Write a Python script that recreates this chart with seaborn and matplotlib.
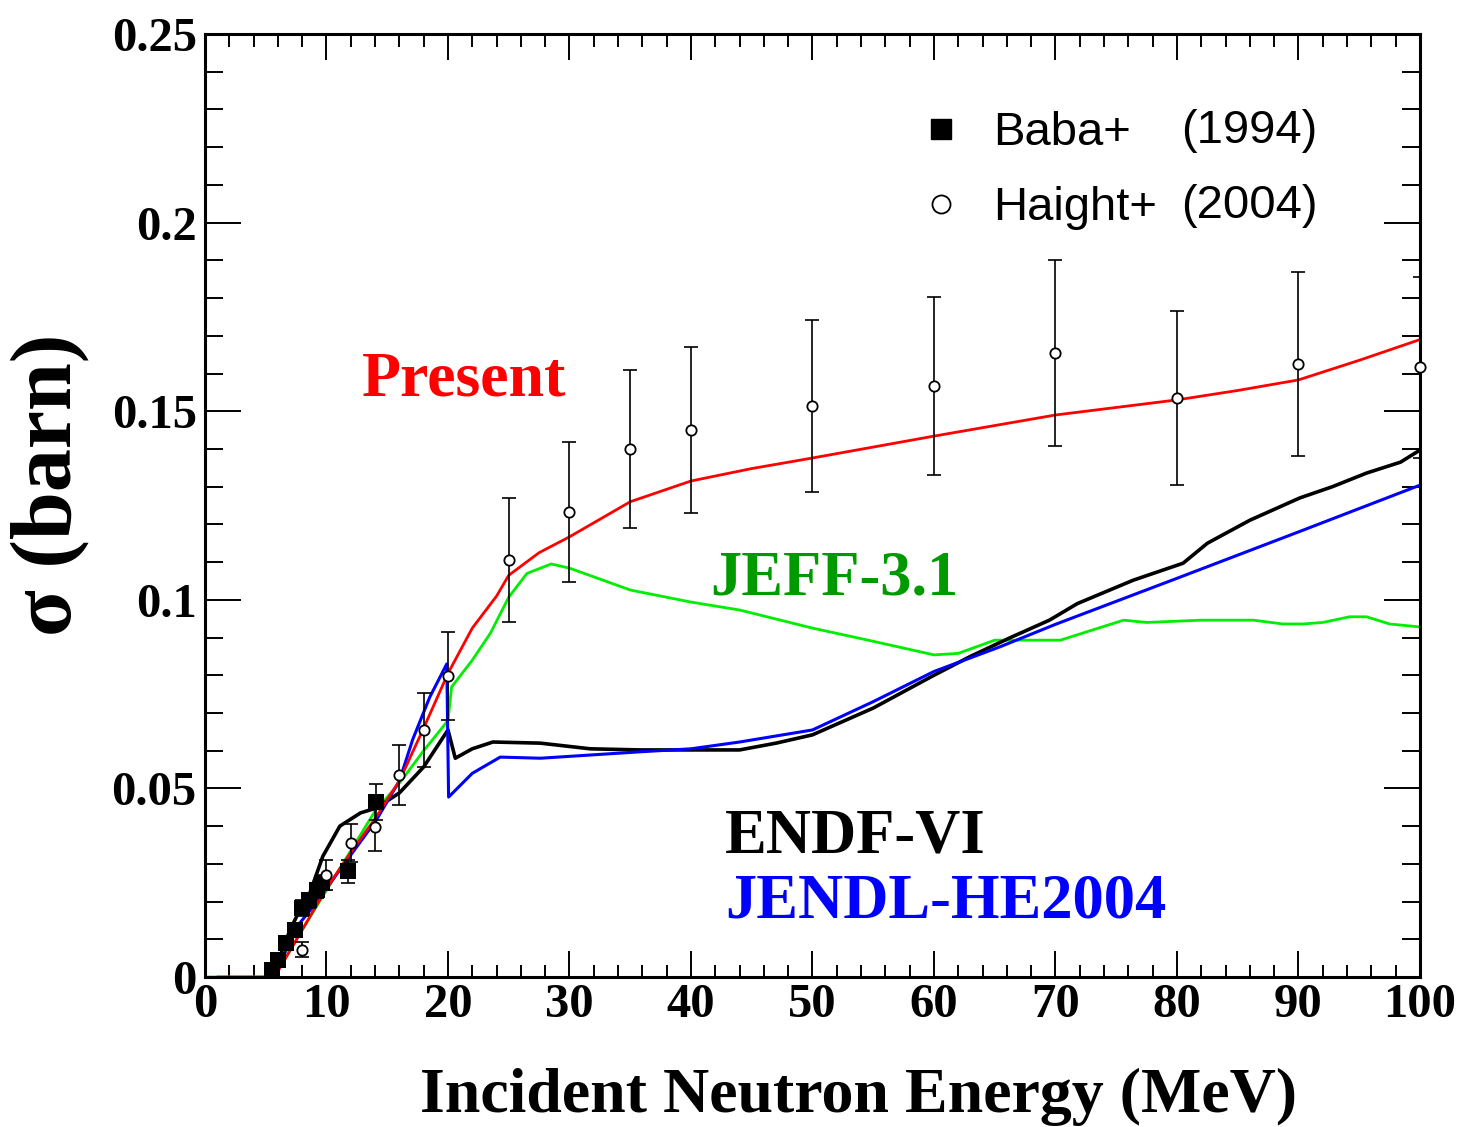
import numpy as np
import pandas as pd
import seaborn as sns
import matplotlib.pyplot as plt
from matplotlib.lines import Line2D
from matplotlib.ticker import MultipleLocator

# --- data (energy in MeV, cross section in barn) ---
present_x = [1, 5, 6, 7, 8, 9, 10, 12, 14, 16, 18, 20, 22, 24, 25, 27.5, 30, 35, 40, 45,
             50, 55, 60, 65, 70, 75, 80, 85, 90, 95, 100]
present_y = [0, 0, 0.0015, 0.007, 0.0125, 0.018, 0.0235, 0.033, 0.042, 0.052, 0.066, 0.0805,
             0.0925, 0.101, 0.1065, 0.1125, 0.1167, 0.126, 0.1315, 0.1348, 0.1376, 0.1405,
             0.1434, 0.1462, 0.149, 0.151, 0.153, 0.1555, 0.1583, 0.1635, 0.169]

jeff_x = [0, 5, 6, 7, 8, 10, 12, 14, 16, 18, 20, 20.3, 22, 23.5, 25, 26.5, 28.5, 30, 35, 40,
          44, 50, 55, 60, 62, 65, 70.4, 75.6, 77.5, 82, 86.3, 88.7, 90.4, 92, 94.2, 95.6,
          97.5, 100]
jeff_y = [0, 0, 0.002, 0.007, 0.0125, 0.023, 0.0335, 0.044, 0.0514, 0.060, 0.068, 0.0769,
          0.084, 0.0912, 0.1007, 0.107, 0.1095, 0.1084, 0.1026, 0.0994, 0.0973, 0.0925,
          0.089, 0.0854, 0.0858, 0.0893, 0.0893, 0.0946, 0.094, 0.0946, 0.0946, 0.0936,
          0.0936, 0.094, 0.0955, 0.0955, 0.0936, 0.0928]

endf_x = [5, 5.5, 6, 7, 8, 8.6, 9.7, 11.1, 12.8, 14.1, 16, 18, 20, 20.6, 22, 23.7, 27.6,
          31.7, 35.8, 44, 47, 50, 55, 60, 63, 66.3, 69.5, 71.8, 76.4, 80.5, 82.5, 86, 90.1,
          92.8, 95.6, 98.4, 100]
endf_y = [0, 0.001, 0.004, 0.0125, 0.019, 0.022, 0.032, 0.040, 0.0435, 0.0448, 0.0488,
          0.0557, 0.0655, 0.058, 0.0605, 0.0623, 0.062, 0.0605, 0.0602, 0.0602, 0.062,
          0.0642, 0.0713, 0.080, 0.085, 0.090, 0.0946, 0.099, 0.1052, 0.1097, 0.115, 0.1211,
          0.127, 0.130, 0.1336, 0.1365, 0.1397]

jendl_x = [5, 5.5, 6, 7, 7.8, 9, 11.1, 14.1, 16, 17.1, 18.5, 19.9, 20.05, 22, 24.3, 27.6,
           35.8, 40, 44, 50, 55, 60, 65.4, 70, 80, 90, 100]
jendl_y = [0, 0.001, 0.003, 0.009, 0.0143, 0.019, 0.0284, 0.0416, 0.052, 0.063, 0.0742,
           0.083, 0.0477, 0.054, 0.0583, 0.058, 0.0597, 0.0605, 0.0623, 0.0655, 0.073,
           0.081, 0.0875, 0.0935, 0.1057, 0.118, 0.1304]

baba_x = [5.5, 6.0, 6.7, 7.4, 8.0, 8.6, 9.2, 9.6, 11.8, 14.1]
baba_y = [0.0019, 0.0045, 0.009, 0.0125, 0.0183, 0.0204, 0.023, 0.025, 0.028, 0.0464]
baba_err = [0.001, 0.001, 0.001, 0.0015, 0.002, 0.002, 0.002, 0.002, 0.003, 0.0048]

haight_x = [8, 10, 12, 14, 16, 18, 20, 25, 30, 35, 40, 50, 60, 70, 80, 90, 100]
haight_y = [0.0072, 0.027, 0.0355, 0.0398, 0.0536, 0.0655, 0.0798, 0.1105, 0.1233, 0.140,
            0.145, 0.1514, 0.1567, 0.1654, 0.1535, 0.1625, 0.1617]
haight_err = [0.002, 0.004, 0.005, 0.0065, 0.008, 0.0098, 0.0117, 0.0165, 0.0185, 0.021,
              0.022, 0.0227, 0.0236, 0.0246, 0.023, 0.0245, 0.024]

sns.set_style('ticks')
plt.rcParams['font.family'] = ['Liberation Serif', 'DejaVu Serif']
plt.rcParams['font.weight'] = 'bold'
plt.rcParams['text.color'] = 'black'
plt.rcParams['axes.labelcolor'] = 'black'

fig = plt.figure(figsize=(14.6, 11.27), dpi=100)
ax = fig.add_axes([0.1404, 0.1331, 0.8322, 0.8367])

# evaluated curves
for xs, ys, col, lw in [(jeff_x, jeff_y, '#00ee00', 2.0),
                        (endf_x, endf_y, 'black', 2.6),
                        (jendl_x, jendl_y, 'blue', 2.2),
                        (present_x, present_y, 'red', 2.0)]:
    sns.lineplot(x=xs, y=ys, color=col, linewidth=lw, estimator=None, sort=False, ax=ax)

# measurements
ax.errorbar(baba_x, baba_y, yerr=baba_err, fmt='none', ecolor='black', elinewidth=1.2,
            capsize=5, capthick=1.2)
sns.scatterplot(x=baba_x, y=baba_y, marker='s', s=140, color='black', edgecolor='black',
                linewidth=0, ax=ax, zorder=5)
ax.errorbar(haight_x, haight_y, yerr=haight_err, fmt='none', ecolor='black', elinewidth=1.2,
            capsize=5, capthick=1.2)
sns.scatterplot(x=haight_x, y=haight_y, marker='o', s=55, facecolor='white', edgecolor='black',
                linewidth=1.3, ax=ax, zorder=6, clip_on=False)

ax.set_xlim(0, 100)
ax.set_ylim(0, 0.25)
ax.xaxis.set_major_locator(MultipleLocator(10))
ax.xaxis.set_minor_locator(MultipleLocator(2))
ax.yaxis.set_major_locator(MultipleLocator(0.05))
ax.yaxis.set_minor_locator(MultipleLocator(0.01))
ax.set_yticks([0, 0.05, 0.1, 0.15, 0.2, 0.25])
ax.set_yticklabels(['0', '0.05', '0.1', '0.15', '0.2', '0.25'])
ax.tick_params(which='both', direction='in', top=True, right=True, width=1.4, colors='black')
ax.tick_params(axis='x', which='major', length=19, labelsize=35, pad=4)
ax.tick_params(axis='x', which='minor', length=9)
ax.tick_params(axis='y', which='major', length=26, labelsize=35, pad=6)
ax.tick_params(axis='y', which='minor', length=13)
for lab in ax.get_xticklabels() + ax.get_yticklabels():
    lab.set_fontweight('bold')
for sp in ax.spines.values():
    sp.set_linewidth(2.2)
    sp.set_color('black')

ax.set_xlabel('Incident Neutron Energy (MeV)', fontsize=46, fontweight='bold', va='center')
ax.xaxis.set_label_coords(0.5375, -0.127)
ax.set_ylabel('σ (barn)', fontsize=62, fontweight='bold', va='center', ha='center')
ax.yaxis.set_label_coords(-0.1276, 0.5217)

# curve labels
ax.text(12.9, 0.1543, 'Present', color='red', fontsize=46, fontweight='bold')
ax.text(41.6, 0.1013, 'JEFF-3.1', color='#009900', fontsize=45, fontweight='bold')
ax.text(42.8, 0.0331, 'ENDF-VI', color='black', fontsize=45, fontweight='bold')
ax.text(42.8, 0.0159, 'JENDL-HE2004', color='blue', fontsize=45, fontweight='bold')

# legend
handles = [Line2D([], [], linestyle='none', marker='s', markersize=14, color='black'),
           Line2D([], [], linestyle='none', marker='o', markersize=13, markerfacecolor='white',
                  markeredgecolor='black', markeredgewidth=1.3)]
leg = ax.legend(handles, ['Baba+', 'Haight+'], loc='upper left', bbox_to_anchor=(0.596, 0.918),
                frameon=False, handlelength=0.5, handletextpad=0.85, labelspacing=0.65,
                borderpad=0, borderaxespad=0,
                prop={'family': 'Liberation Sans', 'size': 34, 'weight': 'normal'})
for t in leg.get_texts():
    t.set_color('black')
ax.text(80.3, 0.2211, '(1994)', fontsize=34, family='Liberation Sans', fontweight='normal')
ax.text(80.3, 0.2012, '(2004)', fontsize=34, family='Liberation Sans', fontweight='normal')

fig.savefig('out.png', dpi=100)
